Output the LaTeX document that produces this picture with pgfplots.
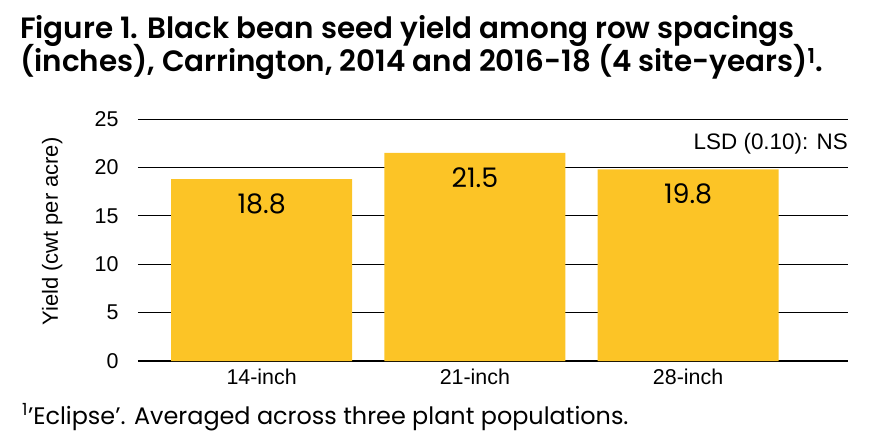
\documentclass[border=0pt]{standalone}
\usepackage{pgfplots}
\pgfplotsset{compat=1.18}
\usepackage{fontspec}
\setmainfont{Liberation Sans}
\newfontfamily\gotham[BoldFont={Poppins SemiBold}]{Poppins}
\definecolor{barcol}{HTML}{FCC426}

\begin{document}
\begin{tikzpicture}
% fixed page frame (pixel grid of the reference)
\path (-138bp,-78bp) rectangle (737bp,361bp);
\begin{axis}[
    at={(0,0)}, anchor=south west,
    scale only axis,
    width=710bp, height=242bp,
    xmin=-0.58, xmax=2.75,
    ymin=0, ymax=25,
    ybar, bar width=181bp,
    xtick={0,1,2},
    xticklabels={14-inch,21-inch,28-inch},
    ytick={5,10,...,25},
    extra y ticks={0},
    extra y tick style={grid style={black, line width=2.2bp}},
    ymajorgrids,
    grid style={black, line width=0.9bp},
    axis line style={draw=none},
    major tick length=0pt,
    tick label style={font=\fontsize{21.5}{25}\selectfont},
    /pgf/number format/assume math mode=true,
    yticklabel style={xshift=-16bp},
    xticklabel style={yshift=-4bp},
    ylabel={Yield (cwt per acre)},
    every axis y label/.style={at={(axis description cs:-0.121,0.535)}, rotate=90, anchor=center, font=\fontsize{22}{26}\selectfont},
    point meta=explicit symbolic,
    nodes near coords,
    every node near coord/.append style={font=\gotham\fontsize{27}{30}\selectfont, anchor=north, yshift=-11bp},
    clip=false,
]
\addplot[fill=barcol, draw=none] coordinates {
    (0,18.8) [18.8]
    (1,21.5) [21.5]
    (2,19.8) [19.8]
};
\node[anchor=east, inner sep=0pt, font=\fontsize{22.5}{26}\selectfont] at (axis description cs:1,0.9) {LSD (0.10): NS};
\end{axis}
\node[anchor=base west, inner sep=0pt, font=\gotham\bfseries\fontsize{29.5}{32}\selectfont] at (-118bp,322bp) {Figure 1. Black bean seed yield among row spacings};
\node[anchor=base west, inner sep=0pt, font=\gotham\bfseries\fontsize{29.5}{32}\selectfont] at (-118bp,289bp) {(inches), Carrington, 2014 and 2016-18 (4 site-years)\textsuperscript{1}.};
\node[anchor=base west, inner sep=0pt, font=\gotham\fontsize{24}{28}\selectfont] at (-116bp,-63bp) {\textsuperscript{1}’Eclipse’. Averaged across three plant populations.};
\end{tikzpicture}
\end{document}
